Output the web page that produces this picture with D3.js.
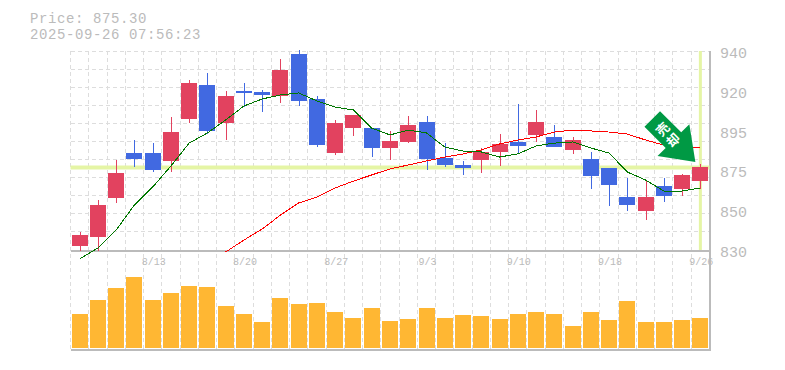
<!DOCTYPE html>
<html>
<head>
<meta charset="utf-8">
<script src="https://d3js.org/d3.v7.min.js"></script>
<style>
  html, body { margin: 0; padding: 0; background: #fff; }
  svg { display: block; }
  text { font-family: "Liberation Mono", monospace; fill: #bbb; }
</style>
</head>
<body>
<div id="chart"></div>
<script>
const dateTicks = ['8/13', '8/20', '8/27', '9/3', '9/10', '9/18', '9/26'];
const dateTickIndex = [4, 9, 14, 19, 24, 29, 34];
const priceTicks = [940, 918, 896, 874, 852, 830];
const priceTickLabels = ['940', '920', '895', '875', '850', '830'];

const opens = [832.2, 837.2, 858.7, 883.6, 883.6, 879.2, 902.4, 921.2, 900.2, 917.9, 917.3, 915.1, 938.3, 913.5, 883.6, 897.4, 897.4, 886.4, 889.7, 900.7, 880.8, 877.0, 879.8, 884.2, 889.7, 893.6, 892.5, 885.3, 880.3, 875.3, 859.3, 851.5, 865.4, 863.7, 868.1];
const closes = [838.3, 854.9, 872.6, 880.3, 874.2, 895.2, 922.3, 895.8, 915.1, 916.8, 915.7, 929.5, 912.4, 888.0, 900.2, 904.6, 886.4, 890.3, 899.1, 880.3, 877.0, 875.3, 884.2, 888.6, 887.5, 900.7, 886.9, 890.8, 870.9, 865.9, 854.9, 859.3, 859.8, 871.5, 875.9];
const highs = [839.9, 857.6, 879.8, 890.8, 889.1, 903.5, 924.0, 927.8, 917.9, 922.3, 918.4, 935.6, 940.6, 915.1, 901.9, 904.6, 897.4, 895.8, 904.1, 904.1, 889.1, 879.2, 886.4, 894.1, 910.7, 907.4, 899.1, 892.5, 884.2, 875.3, 869.8, 868.7, 869.8, 872.0, 877.5];
const lows = [829.6, 829.6, 856.1, 876.0, 873.1, 873.1, 900.2, 894.1, 890.8, 909.0, 906.3, 911.3, 909.6, 886.9, 882.5, 893.0, 881.4, 879.7, 889.1, 874.2, 875.9, 871.5, 872.6, 876.4, 883.6, 889.7, 886.9, 883.1, 863.7, 854.3, 851.5, 846.6, 856.5, 859.8, 863.7];
const volumes = [34, 48, 60, 71, 48, 55, 62, 61, 42, 34, 26, 50, 44, 45, 36, 30, 40, 27, 29, 40, 30, 33, 32, 29, 34, 36, 34, 22, 36, 28, 47, 26, 26, 28, 30];
const maShort = [825.0, 831.1, 841.0, 854.9, 864.8, 876.4, 889.1, 894.7, 901.9, 909.6, 913.5, 915.7, 916.8, 912.4, 909.0, 907.4, 897.4, 893.6, 896.3, 894.7, 886.9, 884.7, 884.2, 881.4, 883.1, 887.5, 889.1, 889.7, 886.4, 883.6, 873.1, 868.7, 862.6, 862.6, 864.3];
// long average only starts at the 9th session
const maLongStart = 8;
const maLong = [828.9, 835.5, 841.6, 849.3, 856.0, 859.3, 864.3, 868.1, 871.5, 874.8, 877.0, 879.2, 881.4, 883.1, 885.3, 888.6, 890.8, 892.5, 895.2, 896.3, 895.8, 895.2, 894.1, 890.8, 888.0, 886.9, 886.4];
const lastPrice = 875.3;

const width = 785, height = 370;
const left = 70.5, right = 709.5;
const priceTop = 51, priceBottom = 250, volTop = 250, volBottom = 348;
const gridColor = '#ddd', frameColor = '#bbb', highlight = '#e5f5a5';
const upColor = '#e2425f', downColor = '#4169e1', volColor = '#ffb733', arrowColor = '#009944';

const svg = d3.select('#chart').append('svg')
    .attr('width', width)
    .attr('height', height);

const band = d3.scaleBand()
    .domain(d3.range(opens.length))
    .range([left, right]);
const xMid = i => band(i) + band.bandwidth() / 2;
const y = d3.scaleLinear().domain([830, 940]).range([priceBottom, priceTop]);
const yVol = d3.scaleLinear().domain([0, 98]).range([volBottom, volTop]);

// grid
const grid = svg.append('g')
    .attr('stroke', gridColor)
    .attr('stroke-dasharray', '4,3')
    .attr('shape-rendering', 'crispEdges');
grid.selectAll('.v').data(d3.range(opens.length + 1)).join('line')
    .attr('x1', i => left + i * band.step())
    .attr('x2', i => left + i * band.step())
    .attr('y1', priceTop)
    .attr('y2', volBottom + 2);
grid.selectAll('.h').data(d3.range(11)).join('line')
    .attr('x1', left)
    .attr('x2', right)
    .attr('y1', i => priceTop + i * (priceBottom - priceTop) / 11)
    .attr('y2', i => priceTop + i * (priceBottom - priceTop) / 11);

// frame
const frame = svg.append('g')
    .attr('stroke', frameColor)
    .attr('stroke-width', 2)
    .attr('shape-rendering', 'crispEdges');
frame.append('line').attr('x1', left).attr('x2', right + 1).attr('y1', priceBottom + 0.5).attr('y2', priceBottom + 0.5);
frame.append('line').attr('x1', left).attr('x2', right + 1).attr('y1', volBottom + 2).attr('y2', volBottom + 2);
frame.append('line').attr('x1', right).attr('x2', right).attr('y1', priceTop).attr('y2', volBottom + 2);

// last price cross hair
svg.append('line')
    .attr('x1', left).attr('x2', right)
    .attr('y1', y(lastPrice) - 0.5).attr('y2', y(lastPrice) - 0.5)
    .attr('stroke', highlight).attr('stroke-width', 4);
svg.append('line')
    .attr('x1', xMid(34)).attr('x2', xMid(34))
    .attr('y1', priceTop).attr('y2', priceBottom)
    .attr('stroke', highlight).attr('stroke-width', 3);

// volume
svg.append('g').selectAll('rect').data(volumes).join('rect')
    .attr('x', (d, i) => Math.round(xMid(i)) - 8)
    .attr('width', 16)
    .attr('y', d => yVol(d))
    .attr('height', d => volBottom - yVol(d))
    .attr('fill', volColor);

// candles
const candles = svg.append('g')
    .attr('shape-rendering', 'crispEdges')
    .selectAll('g').data(d3.range(opens.length)).join('g')
    .each(function (i) {
        const c = closes[i] >= opens[i] ? upColor : downColor;
        const g = d3.select(this);
        g.append('line')
            .attr('x1', Math.round(xMid(i)) + 0.5).attr('x2', Math.round(xMid(i)) + 0.5)
            .attr('y1', y(highs[i])).attr('y2', y(lows[i]))
            .attr('stroke', c);
        g.append('rect')
            .attr('x', Math.round(xMid(i)) - 8)
            .attr('width', 16)
            .attr('y', y(Math.max(opens[i], closes[i])))
            .attr('height', Math.abs(y(opens[i]) - y(closes[i])))
            .attr('fill', c);
    });

// moving averages
const line = d3.line().x(d => xMid(d[0])).y(d => y(d[1]));
svg.append('path')
    .attr('d', line(maLong.map((d, i) => [i + maLongStart, d])))
    .attr('fill', 'none').attr('stroke', '#f00').attr('shape-rendering', 'crispEdges');
svg.append('path')
    .attr('d', line(maShort.map((d, i) => [i, d])))
    .attr('fill', 'none').attr('stroke', '#070').attr('shape-rendering', 'crispEdges');

// signal arrow, tip sits just above the last candle
const arrow = svg.append('g')
    .attr('transform', `translate(${xMid(34) - 5},${y(lastPrice) - 6}) rotate(-45)`);
arrow.append('path')
    .attr('d', 'M0,0 L-22.5,-31 L-11,-31 L-11,-61 L11,-61 L11,-31 L22.5,-31 Z')
    .attr('fill', arrowColor);
arrow.selectAll('.sig').data(['売', '却']).join('text')
    .attr('x', 0)
    .attr('y', (d, i) => -47 + i * 15)
    .attr('text-anchor', 'middle')
    .attr('dominant-baseline', 'central')
    .style('font-family', '"Noto Sans CJK JP"')
    .style('font-size', '13px')
    .style('font-weight', '700')
    .style('fill', '#fff')
    .text(d => d);

// labels
svg.append('text').attr('x', 30).attr('y', 22.5).style('font-size', '14px').style('letter-spacing', '0.6px').text('Price: 875.30');
svg.append('text').attr('x', 30).attr('y', 38.5).style('font-size', '14px').style('letter-spacing', '0.6px').text('2025-09-26 07:56:23');

svg.selectAll('.price').data(priceTicks).join('text')
    .attr('x', 720)
    .attr('y', d => y(d) + 7)
    .style('font-size', '15px')
    .text((d, i) => priceTickLabels[i]);

svg.selectAll('.date').data(dateTicks).join('text')
    .attr('x', (d, i) => xMid(dateTickIndex[i]) + 1)
    .attr('y', 265)
    .attr('text-anchor', 'middle')
    .style('font-size', '10px')
    .text(d => d);
</script>
</body>
</html>
